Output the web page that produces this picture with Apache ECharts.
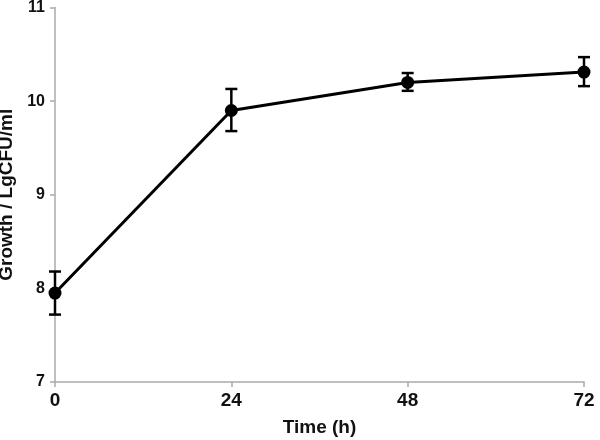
<!DOCTYPE html>
<html><head><meta charset="utf-8">
<script src="https://cdn.jsdelivr.net/npm/echarts@6/dist/echarts.min.js"></script>
<style>html,body{margin:0;padding:0;background:#fff}#c{width:600px;height:440px}</style>
</head><body><div id="c"></div>
<script>
var times = [0, 24, 48, 72];
var growth = [7.95, 9.90, 10.20, 10.31];
var errLow = [7.72, 9.68, 10.11, 10.16];
var errHigh = [8.18, 10.13, 10.30, 10.47];
var yTicks = [7, 8, 9, 10, 11];

var lineData = times.map(function (t, i) { return [t, growth[i]]; });
var errData = times.map(function (t, i) { return [t, errLow[i], errHigh[i]]; });
var font = '"Liberation Sans", Arial, sans-serif';

var chart = echarts.init(document.getElementById('c'));
chart.setOption({
  animation: false,
  grid: { left: 55, right: 16, top: 7.5, bottom: 58, outerBoundsMode: 'none', containLabel: false },
  xAxis: {
    type: 'value', min: 0, max: 72, interval: 24,
    name: 'Time (h)', nameLocation: 'middle', nameGap: 36,
    nameTextStyle: { fontFamily: font, fontWeight: 'bold', fontSize: 19, color: '#111' },
    axisLine: { lineStyle: { color: '#aaa', width: 1.5 } },
    axisTick: { show: true, length: 5, lineStyle: { color: '#aaa', width: 1.5 } },
    axisLabel: { fontFamily: font, fontWeight: 'bold', fontSize: 19, color: '#111', margin: 9 },
    splitLine: { show: false }
  },
  yAxis: {
    type: 'value', min: yTicks[0], max: yTicks[yTicks.length - 1], interval: 1,
    name: 'Growth / LgCFU/ml', nameLocation: 'middle', nameGap: 33,
    nameTextStyle: { fontFamily: font, fontWeight: 'bold', fontSize: 19, color: '#111' },
    axisLine: { show: true, lineStyle: { color: '#aaa', width: 1.5 } },
    axisTick: { show: true, length: 5, lineStyle: { color: '#aaa', width: 1.5 } },
    axisLabel: { fontFamily: font, fontWeight: 'bold', fontSize: 16, color: '#111', margin: 10 },
    splitLine: { show: false }
  },
  series: [
    {
      type: 'custom',
      data: errData,
      z: 3,
      renderItem: function (params, api) {
        var x = api.value(0);
        var lo = api.coord([x, api.value(1)]);
        var hi = api.coord([x, api.value(2)]);
        var hw = 6;
        var st = { stroke: '#000', lineWidth: 2.5 };
        return {
          type: 'group',
          children: [
            { type: 'line', shape: { x1: lo[0], y1: lo[1], x2: hi[0], y2: hi[1] }, style: st },
            { type: 'line', shape: { x1: lo[0] - hw, y1: lo[1], x2: lo[0] + hw, y2: lo[1] }, style: st },
            { type: 'line', shape: { x1: hi[0] - hw, y1: hi[1], x2: hi[0] + hw, y2: hi[1] }, style: st }
          ]
        };
      }
    },
    {
      type: 'line',
      data: lineData,
      z: 4,
      symbol: 'circle',
      symbolSize: 13,
      lineStyle: { color: '#000', width: 3 },
      itemStyle: { color: '#000' }
    }
  ]
});
</script></body></html>
